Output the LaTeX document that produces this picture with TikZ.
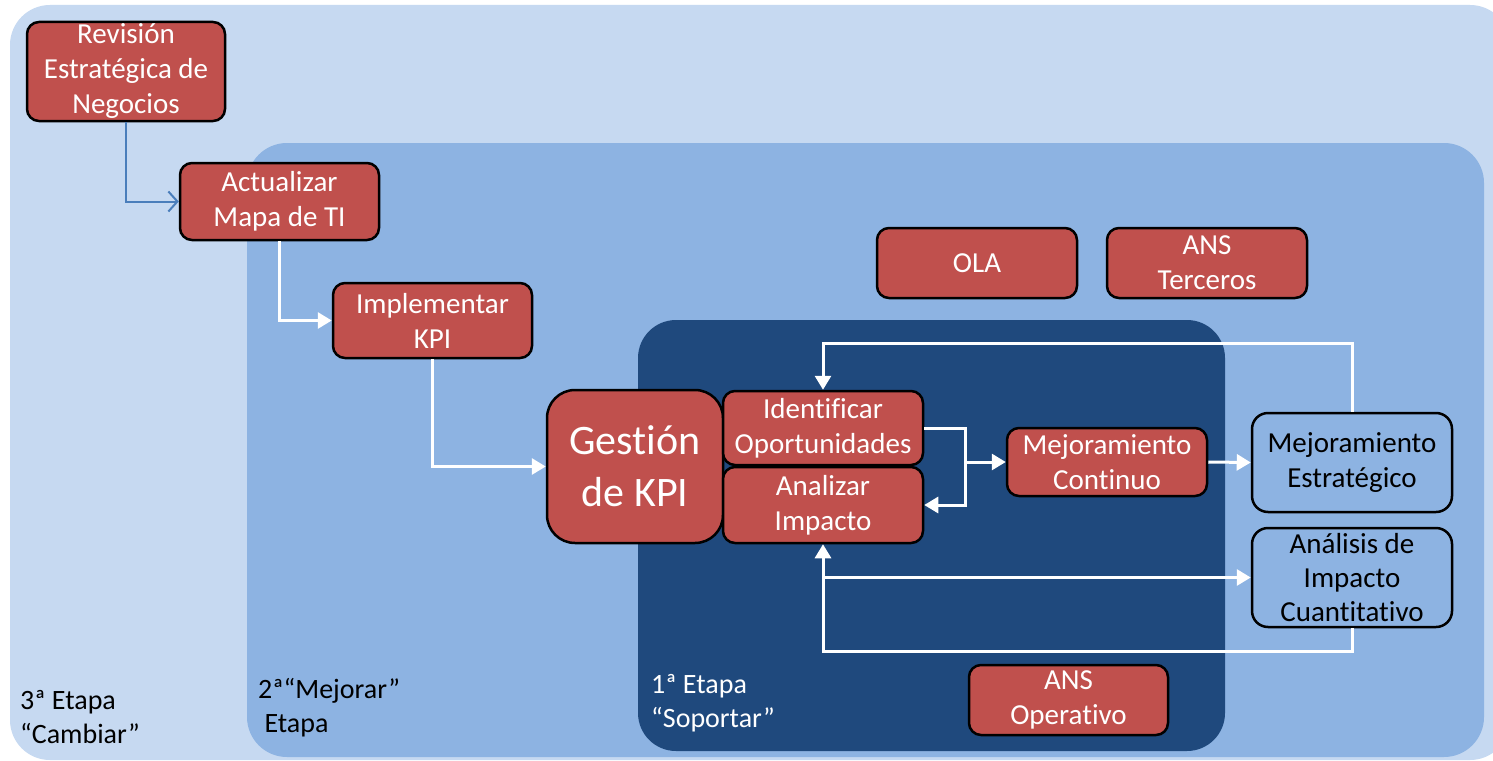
\documentclass[tikz,border=0pt]{standalone}
\usepackage{fontspec}
\setmainfont[Ligatures={NoCommon}]{Carlito}
\usetikzlibrary{arrows.meta}
\definecolor{lightbg}{HTML}{C6D9F1}
\definecolor{midbg}{HTML}{8DB3E2}
\definecolor{darkbg}{HTML}{1F497D}
\definecolor{redbox}{HTML}{C0504D}
\definecolor{bluearr}{HTML}{4A7EBB}
\begin{document}
\begin{tikzpicture}[x=1pt,y=-1pt,
  redstep/.style={draw=black,line width=2.5pt,fill=redbox,rounded corners=12pt,
    text=white,align=center,inner sep=0pt,font=\fontsize{29}{35}\selectfont},
  bluestep/.style={draw=black,line width=2.5pt,fill=midbg,rounded corners=16pt,
    text=black,align=center,inner sep=0pt,font=\fontsize{29}{35}\selectfont},
  warr/.style={draw=white,line width=3pt,-{Triangle[length=14pt,width=16pt]}},
  barr/.style={draw=bluearr,line width=2pt,-{Straight Barb[length=9pt,width=20pt]}},
  stagelbl/.style={anchor=north west,inner sep=0pt,align=left,font=\fontsize{28}{34}\selectfont}
]
\useasboundingbox (0,0) rectangle (1493,760);
\fill[white] (0,0) rectangle (1493,760);
% stage regions
\fill[lightbg,rounded corners=40pt] (10,5) rectangle (1510,760);
\fill[midbg,rounded corners=40pt] (247,143) rectangle (1484,757);
\fill[darkbg,rounded corners=38pt] (638,320) rectangle (1225,751);
% nodes
\node[redstep,minimum width=198pt,minimum height=99pt] (rev) at (126,71.5) {Revisión\\Estratégica de\\Negocios};
\node[redstep,minimum width=199pt,minimum height=77pt] (act) at (279.5,201.5) {Actualizar\\Mapa de TI};
\node[redstep,minimum width=199pt,minimum height=75pt] (imp) at (432.5,320.5) {Implementar\\KPI};
\node[redstep,rounded corners=28pt,minimum width=176pt,minimum height=153pt,font=\fontsize{42}{52}\selectfont] (gest) at (635,466.5) {Gestión\\de KPI};
\node[redstep,minimum width=200pt,minimum height=74pt] (ide) at (823,428) {Identificar\\Oportunidades};
\node[redstep,minimum width=200pt,minimum height=76pt] (ana) at (823,505) {Analizar\\Impacto};
\node[redstep,minimum width=200pt,minimum height=68pt] (mc) at (1107,462) {Mejoramiento\\Continuo};
\node[redstep,minimum width=200pt,minimum height=70pt] (ola) at (977,263) {OLA};
\node[redstep,minimum width=200pt,minimum height=70pt] (anst) at (1207,263) {ANS\\Terceros};
\node[redstep,minimum width=199pt,minimum height=70pt] (anso) at (1068.5,700) {ANS\\Operativo};
\node[bluestep,minimum width=200pt,minimum height=99pt] (mes) at (1352,462.5) {Mejoramiento\\Estratégico};
\node[bluestep,minimum width=200pt,minimum height=99pt,font=\fontsize{29}{34}\selectfont] (ais) at (1352,577.5) {Análisis de\\Impacto\\Cuantitativo};
% labels
\node[stagelbl,text=black] (l3) at (20,690) {3ª Etapa\\“Cambiar”};
\node[stagelbl,text=black] (l2) at (258,678) {2ª“Mejorar”\\\ Etapa};
\node[stagelbl,text=white] (l1) at (651,674) {1ª Etapa\\“Soportar”};
% connectors
\draw[barr] (rev.south) |- (act.west);
\draw[warr] (act.south) |- (imp.west);
\draw[warr] (imp.south) |- (gest.west);
\coordinate (jx) at (965,505);
\draw[warr] (ide.east) -| (jx) -- (ana.east);
\draw[warr] (jx |- mc.west) -- (mc.west);
\draw[warr] (mc.east) -- (mes.west);
\coordinate (tl) at (823,343);
\draw[warr] (mes.north) |- (tl) -- (ide.north);
\coordinate (bl) at (823,651);
\draw[warr] (ais.south) |- (bl) -- (ana.south);
\draw[warr] (bl |- ais.west) -- (ais.west);
\end{tikzpicture}
\end{document}
